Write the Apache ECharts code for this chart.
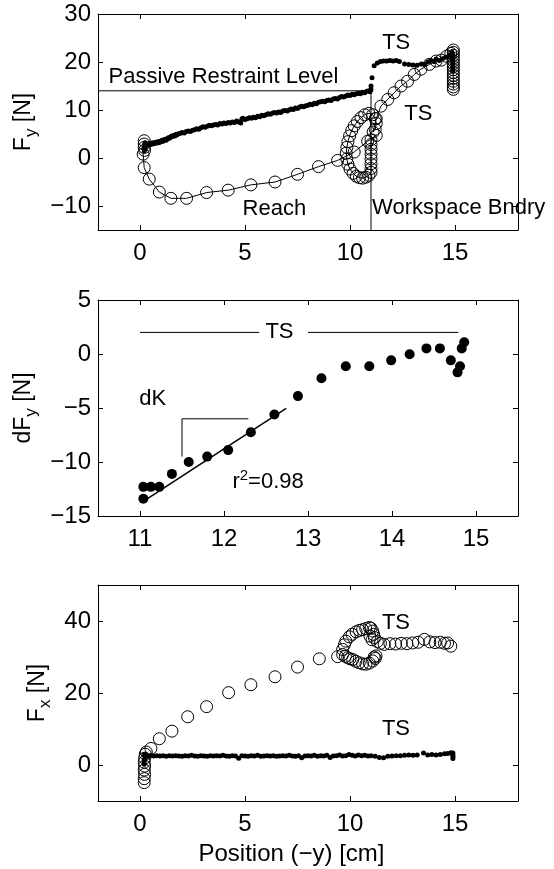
<!DOCTYPE html>
<html>
<head>
<meta charset="utf-8">
<script src="https://cdn.jsdelivr.net/npm/echarts@6.0.0/dist/echarts.min.js"></script>
<style>
html,body{margin:0;padding:0;background:#fff;}
#chart{width:554px;height:869px;}
</style>
</head>
<body>
<div id="chart"></div>
<script>
// ---------- DATA ----------
// Panel 1: Fy vs position
var fyTsDots = [
[0.2,1.5],[0.2,2.2],[0.22,2.8],[0.25,3.2],[0.25,1.9],[0.3,2.6],[0.35,2.9],[0.4,2.7],[0.45,3.0],[0.5,2.8],
[0.55,3.1],[0.6,2.9],[0.65,3.2],[0.7,3.0],[0.75,3.3],[0.8,3.1],[0.85,3.4],[0.9,3.2],[0.95,3.5],[1.0,3.4],
[1.05,3.7],[1.1,3.5],[1.15,3.8],[1.2,3.9],[1.25,3.7],[1.3,4.0],[1.35,4.2],[1.4,4.1],[1.45,4.3],[1.5,4.6],
[1.55,4.5],[1.6,4.7],[1.65,4.6],[1.7,4.9],[1.75,4.8],[1.8,5.0],[1.9,5.1],[2.0,5.3],[2.1,5.2],[2.2,5.5],
[2.3,5.6],[2.4,5.5],[2.5,5.8],[2.6,5.9],[2.7,6.1],[2.8,6.0],[2.9,6.3],[3.0,6.5],[3.1,6.4],[3.2,6.6],
[3.3,6.8],[3.4,6.7],[3.5,6.9],[3.6,7.0],[3.7,6.9],[3.8,7.2],[3.9,7.1],[4.0,7.3],[4.1,7.2],[4.2,7.4],
[4.3,7.3],[4.4,7.5],[4.5,7.4],[4.6,7.7],[4.7,7.5],[4.8,7.3],[4.85,8.1],[4.9,8.3],[5.0,8.0],[5.1,8.2],
[5.2,8.4],[5.3,8.3],[5.4,8.5],[5.5,8.4],[5.6,8.7],[5.7,8.6],[5.8,8.9],[5.9,8.8],[6.0,9.0],[6.1,9.2],
[6.2,9.1],[6.3,9.3],[6.4,9.5],[6.5,9.4],[6.6,9.6],[6.7,9.5],[6.8,9.8],[6.9,9.9],[7.0,9.8],[7.1,10.0],
[7.2,10.2],[7.3,10.1],[7.4,10.4],[7.5,10.3],[7.6,10.6],[7.7,10.8],[7.8,10.7],[7.9,10.9],[8.0,11.0],[8.1,11.2],
[8.2,11.1],[8.3,11.4],[8.4,11.3],[8.5,11.6],[8.6,11.7],[8.7,11.8],[8.8,11.7],[8.9,12.0],[9.0,12.1],[9.1,12.0],
[9.2,12.3],[9.3,12.4],[9.4,12.3],[9.5,12.6],[9.6,12.8],[9.7,12.7],[9.8,12.9],[9.9,13.1],[10.0,13.0],[10.1,13.3],
[10.2,13.2],[10.3,13.4],[10.4,13.5],[10.5,13.4],[10.6,13.7],[10.7,13.6],[10.8,13.9],[10.9,14.0],[10.95,13.8],[11.0,14.2],
[11.0,15.0],[11.05,16.7],[11.15,19.2],[11.3,19.8],[11.45,20.1],[11.6,20.2],[11.75,20.2],[11.9,20.3],[12.05,20.2],[12.2,20.3],
[12.35,20.1],[12.6,19.6],[12.8,19.5],[13.0,19.4],[13.2,19.3],[13.4,19.6],[13.55,19.5],[13.7,20.0],[13.85,20.3],[14.0,20.1],
[14.1,20.6],[14.25,20.3],[14.4,20.7],[14.55,21.0],[14.7,21.2],[14.85,22.0],[14.9,21.5],[14.9,21.0],[14.9,20.5],[14.9,20.0],
[14.9,19.5],[14.9,19.0],[14.9,18.5],[14.9,18.0]
];
var fyReach = [
[0.2,3.6],[0.2,2.9],[0.2,2.2],[0.22,1.6],[0.15,0.8],[0.2,-2.0],[0.44,-4.4],[0.92,-7.1],[1.47,-8.4],[2.22,-8.4],
[3.17,-7.2],[4.2,-6.7],[5.28,-5.6],[6.43,-5.0],[7.5,-3.4],[8.5,-1.8],[9.41,-0.5],[10.2,1.25],[10.84,3.5],[11.25,4.7],
[11.0,3.8],[11.0,2.8],[11.0,1.8],[11.0,0.8],[11.0,-0.2],[11.0,-1.2],[11.0,-2.2],[11.0,-3.0],[10.9,-3.6],[10.75,-4.0],
[10.6,-4.2],[10.45,-4.1],[10.3,-3.8],[10.15,-3.2],[10.0,-2.3],[9.9,-1.3],[9.85,-0.2],[9.82,1.0],[9.85,2.2],[9.9,3.4],
[9.98,4.6],[10.08,5.7],[10.2,6.7],[10.35,7.6],[10.52,8.4],[10.7,9.0],[10.9,9.3],[11.08,9.0],[11.2,8.2],[11.25,7.2],
[11.2,6.0],[11.1,5.4],[11.25,8.2],[11.47,10.8],[11.8,12.2],[12.1,13.6],[12.43,15.0],[12.74,16.0],[13.06,17.4],[13.38,18.5],
[13.78,19.5],[14.1,20.2],[14.35,20.4],[14.6,21.2],[14.8,21.8],[14.92,22.5],[14.92,22.0],[14.92,21.4],[14.92,20.8],[14.92,20.2],
[14.92,19.6],[14.92,19.0],[14.92,18.4],[14.92,17.8],[14.92,17.2],[14.92,16.6],[14.92,16.0],[14.92,15.4],[14.92,14.8],[14.92,14.3]
];
var restraintLevel = [[-2,14],[11,14]];
var workspaceBndry = [[11,14],[11,-15]];

// Panel 2: dFy vs position
var dfyPts = [
[11.04,-12.3],[11.04,-13.4],[11.13,-12.3],[11.23,-12.3],[11.38,-11.1],[11.58,-10.0],[11.8,-9.5],[12.05,-8.9],[12.32,-7.25],[12.6,-5.6],
[12.88,-3.9],[13.16,-2.25],[13.45,-1.14],[13.73,-1.14],[13.99,-0.59],[14.21,-0.03],[14.41,0.52],[14.57,0.52],[14.7,-0.59],[14.78,-1.7],
[14.81,-1.14],[14.83,0.52],[14.86,1.08]
];
var dfyFit = [[11.03,-13.7],[12.74,-5.03]];
var tsBarLeft = [[11,2],[12.42,2]];
var tsBarRight = [[13.0,2],[14.79,2]];
var dkBracket = [[12.29,-6.0],[11.5,-6.0],[11.5,-9.5]];

// Panel 3: Fx vs position
var fxReach = [
[0.2,-4.9],[0.2,-3.8],[0.22,-2.6],[0.2,-1.4],[0.22,-0.3],[0.2,0.8],[0.22,1.9],[0.25,3.0],[0.3,3.6],[0.52,4.6],
[0.92,7.3],[1.52,9.4],[2.27,13.4],[3.17,16.2],[4.22,20.1],[5.28,22.3],[6.43,24.5],[7.5,27.2],[8.54,29.5],[9.41,30.1],
[9.65,32.1],[9.73,33.4],[9.8,34.4],[9.97,35.6],[10.1,36.3],[10.29,37.0],[10.45,37.4],[10.6,37.6],[10.75,37.9],[10.92,38.2],
[11.0,38.0],[11.08,37.2],[11.12,36.3],[11.16,35.4],[11.3,34.3],[11.05,34.8],[10.95,35.8],
[9.65,30.7],[9.78,30.2],[9.89,29.8],[10.0,29.5],[10.13,29.3],[10.28,28.8],[10.44,28.4],[10.6,28.1],[10.76,28.0],[10.92,28.3],
[11.08,28.9],[11.2,29.6],[11.24,30.3],[11.15,30.0],
[11.45,33.8],[11.63,33.5],[11.9,33.7],[12.17,33.6],[12.44,33.8],[12.71,33.7],[12.98,33.9],[13.25,34.1],[13.54,34.9],[13.8,34.2],
[14.05,34.0],[14.3,34.1],[14.5,33.8],[14.65,33.9],[14.8,33.0]
];
var fxTsDots = [
[0.2,0.2],[0.2,0.9],[0.22,1.5],[0.25,2.1],[0.2,2.9],[0.3,2.6],
[0.35,2.5],[0.5,2.6],[0.65,2.5],[0.8,2.6],[0.95,2.5],[1.1,2.6],[1.25,2.4],[1.4,2.6],[1.55,2.5],[1.7,2.6],
[1.85,2.5],[2.0,2.4],[2.15,2.6],[2.3,2.5],[2.45,2.7],[2.6,2.5],[2.75,2.4],[2.9,2.6],[3.05,2.5],[3.2,2.4],
[3.35,2.6],[3.5,2.5],[3.65,2.6],[3.8,2.5],[3.95,2.7],[4.1,2.5],[4.25,2.4],[4.4,2.6],[4.55,2.5],[4.7,1.9],
[4.85,2.6],[5.0,2.5],[5.15,2.4],[5.3,2.6],[5.45,2.5],[5.6,2.7],[5.75,2.4],[5.9,2.5],[6.05,2.6],[6.2,2.5],
[6.35,2.6],[6.5,2.4],[6.65,2.5],[6.8,2.6],[6.95,2.5],[7.1,2.7],[7.25,2.5],[7.4,2.4],[7.55,2.6],[7.7,2.0],
[7.85,2.5],[8.0,2.6],[8.15,2.5],[8.3,2.7],[8.45,2.4],[8.6,2.6],[8.75,2.5],[8.9,2.7],[9.05,2.1],[9.2,2.5],
[9.35,2.6],[9.5,2.8],[9.65,2.5],[9.8,2.6],[9.95,2.9],[10.1,2.7],[10.25,2.5],[10.4,2.8],[10.55,2.6],[10.7,2.7],
[10.85,2.5],[11.0,2.6],[11.2,2.4],[11.4,2.1],[11.6,2.0],[11.8,2.4],[12.0,2.5],[12.2,2.6],[12.4,2.6],[12.6,2.7],
[12.8,2.8],[13.0,2.7],[13.2,2.8],[13.5,3.3],[13.7,2.8],[13.9,2.9],[14.1,2.8],[14.3,2.9],[14.5,3.1],[14.65,3.2],
[14.8,3.4],[14.9,3.3],[14.9,2.8],[14.9,2.3],[14.9,1.8]
];

// Tick values
var posTicks = [0,5,10,15];
var fyTicks = [-10,0,10,20,30];
var dfyXTicks = [11,12,13,14,15];
var dfyYTicks = [-15,-10,-5,0,5];
var fxTicks = [0,20,40];

// ---------- CHART ----------
var FONT = 'Liberation Sans, Arial, Helvetica, sans-serif';
var chart = echarts.init(document.getElementById('chart'), null, {renderer:'canvas'});
function fmt(v){ return String(v).replace('-', '\u2212'); }

function xAx(grid, min, max, ticks, pos, showLabel, extra){
  var a = {
    type:'value', gridIndex:grid, min:min, max:max, position:pos,
    splitLine:{show:false},
    axisLine:{show:true, onZero:false, lineStyle:{color:'#000', width:1}},
    axisTick:{show:true, inside:true, length:5, customValues:ticks, lineStyle:{color:'#000'}},
    axisLabel:{show:showLabel, customValues:ticks, formatter:fmt, color:'#000', fontSize:24, fontFamily:FONT, margin:11}
  };
  if (extra) for (var k in extra) a[k] = extra[k];
  return a;
}
function yAx(grid, min, max, ticks, pos, showLabel, extra){
  var a = {
    type:'value', gridIndex:grid, min:min, max:max, position:pos,
    splitLine:{show:false},
    axisLine:{show:true, onZero:false, lineStyle:{color:'#000', width:1}},
    axisTick:{show:true, inside:true, length:5, customValues:ticks, lineStyle:{color:'#000'}},
    axisLabel:{show:showLabel, customValues:ticks, formatter:fmt, color:'#000', fontSize:24, fontFamily:FONT, margin:7}
  };
  if (extra) for (var k in extra) a[k] = extra[k];
  return a;
}
function yName(main, sub, rest, gap){
  return {
    name:'{a|' + main + '}{s|' + sub + '}{a|' + rest + '}',
    nameLocation:'middle', nameGap:gap, nameRotate:90,
    nameTextStyle:{ rich:{
      a:{fontSize:23, fontFamily:FONT, color:'#000'},
      s:{fontSize:17, fontFamily:FONT, color:'#000', padding:[14,0,0,0]}
    }}
  };
}

var dotStyle = {color:'#000', opacity:1};
var ringStyle = {color:'rgba(0,0,0,0)', borderColor:'#000', borderWidth:1, opacity:1};
var labelBase = {show:true, position:'inside', color:'#000', textBorderWidth:0, fontSize:22, fontFamily:FONT};

function textSeries(xi, yi, items){
  return {
    type:'scatter', xAxisIndex:xi, yAxisIndex:yi, symbolSize:0, silent:true, z:10,
    itemStyle:{color:'#000', opacity:1},
    data: items.map(function(t){
      return {value:[t[1], t[2]], label:Object.assign({}, labelBase, {formatter:t[0], align:t[3] || 'center', verticalAlign:'middle'}, t[4] || {})};
    })
  };
}
function lineSeries(xi, yi, data, w){
  return {type:'line', xAxisIndex:xi, yAxisIndex:yi, data:data, showSymbol:false, symbol:'none',
    lineStyle:{color:'#000', width:w || 1}, silent:true, z:3};
}

var option = {
  animation:false,
  backgroundColor:'#fff',
  grid:[
    {left:98, top:14, width:420, height:216},
    {left:98, top:300, width:420, height:216},
    {left:98, top:585, width:420, height:216}
  ],
  xAxis:[
    xAx(0, -2, 18, posTicks, 'bottom', true),
    xAx(0, -2, 18, posTicks, 'top', false),
    xAx(1, 10.5, 15.5, dfyXTicks, 'bottom', true),
    xAx(1, 10.5, 15.5, dfyXTicks, 'top', false),
    xAx(2, -2, 18, posTicks, 'bottom', true, {
      name:'Position (\u2212y) [cm]', nameLocation:'middle', nameGap:41,
      nameTextStyle:{color:'#000', fontSize:24, fontFamily:FONT, padding:[0,33,0,0]}
    }),
    xAx(2, -2, 18, posTicks, 'top', false)
  ],
  yAxis:[
    yAx(0, -15, 30, fyTicks, 'left', true, yName('F', 'y', ' [N]', 57)),
    yAx(0, -15, 30, fyTicks, 'right', false),
    yAx(1, -15, 5, dfyYTicks, 'left', true, yName('dF', 'y', ' [N]', 57)),
    yAx(1, -15, 5, dfyYTicks, 'right', false),
    yAx(2, -10, 50, fxTicks, 'left', true, yName('F', 'x', ' [N]', 43)),
    yAx(2, -10, 50, fxTicks, 'right', false)
  ],
  series:[
    // Panel 1
    lineSeries(0, 0, restraintLevel),
    lineSeries(0, 0, workspaceBndry),
    {type:'line', xAxisIndex:0, yAxisIndex:0, data:fyReach, symbol:'circle', symbolSize:12, showSymbol:true,
      itemStyle:ringStyle, lineStyle:{color:'#000', width:1}, silent:true, z:4},
    {type:'scatter', xAxisIndex:0, yAxisIndex:0, data:fyTsDots, symbol:'circle', symbolSize:5, itemStyle:dotStyle, silent:true, z:5},
    textSeries(0, 0, [
      ['Passive Restraint Level', -1.5, 16.8, 'left'],
      ['TS', 12.2, 24.0],
      ['TS', 13.25, 9.1],
      ['Reach', 6.4, -10.7],
      ['Workspace Bndry', 11.05, -10.3, 'left']
    ]),
    // Panel 2
    lineSeries(2, 2, tsBarLeft),
    lineSeries(2, 2, tsBarRight),
    lineSeries(2, 2, dkBracket),
    lineSeries(2, 2, dfyFit, 1.5),
    {type:'scatter', xAxisIndex:2, yAxisIndex:2, data:dfyPts, symbol:'circle', symbolSize:10, itemStyle:dotStyle, silent:true, z:5},
    textSeries(2, 2, [
      ['TS', 12.66, 2.0],
      ['dK', 10.99, -4.2, 'left'],
      ['{a|r}{s|2}{a|=0.98}', 12.1, -11.8, 'left', {rich:{
        a:{fontSize:22, fontFamily:FONT, color:'#000'},
        s:{fontSize:15, fontFamily:FONT, color:'#000', padding:[0,0,12,0]}
      }}]
    ]),
    // Panel 3
    {type:'scatter', xAxisIndex:4, yAxisIndex:4, data:fxReach, symbol:'circle', symbolSize:12, itemStyle:ringStyle, silent:true, z:4},
    {type:'scatter', xAxisIndex:4, yAxisIndex:4, data:fxTsDots, symbol:'circle', symbolSize:5, itemStyle:dotStyle, silent:true, z:5},
    textSeries(4, 4, [
      ['TS', 12.19, 39.5],
      ['TS', 12.19, 9.9]
    ])
  ]
};
chart.setOption(option);
</script>
</body>
</html>
